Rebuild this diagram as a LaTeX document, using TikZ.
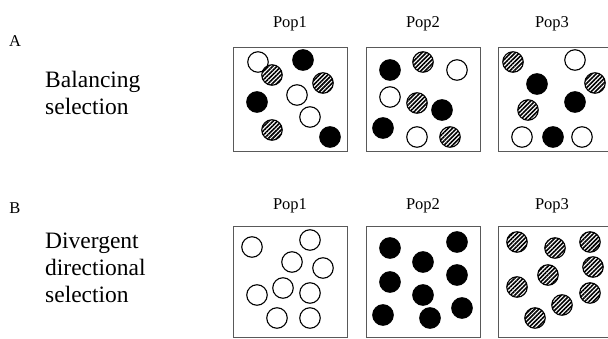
\documentclass[tikz,border=0pt]{standalone}
\usepackage{fontspec}
\setmainfont{Liberation Serif}
\usetikzlibrary{patterns.meta}
\tikzset{
  popbox/.style={draw=black!65, line width=1.1pt, fill=none, inner sep=0pt, anchor=north west},
  ball/.style={circle, minimum size=20.5pt, inner sep=0pt, line width=1.1pt, draw=black},
  wball/.style={ball, fill=white},
  bball/.style={ball, fill=black},
  hball/.style={ball, pattern={Lines[angle=45,distance=3pt,line width=1.6pt]}},
  poplabel/.style={font=\fontsize{16.5}{18}\selectfont, inner sep=0pt},
  rowlabel/.style={font=\fontsize{16.5}{18}\selectfont, inner sep=0pt},
  modelabel/.style={font=\fontsize{23.5}{27}\selectfont, align=left, anchor=west, inner sep=0pt}
}
\begin{document}
\begin{tikzpicture}[x=1pt, y=-1pt]
  \useasboundingbox (0,0) rectangle (608,339);

  % ---- Row A: balancing selection ----
  \node[rowlabel] (labA) at (15,41) {A};
  \node[modelabel] (modeA) at (45,93) {Balancing\\selection};
  \node[poplabel] (popA1) at (290,24) {Pop1};
  \node[poplabel] (popA2) at (423,24) {Pop2};
  \node[poplabel] (popA3) at (552,24) {Pop3};
  \node[popbox, minimum width=114pt, minimum height=104pt] (boxA1) at (233,47) {};
  \node[popbox, minimum width=114pt, minimum height=104pt] (boxA2) at (366,47) {};
  \node[popbox, minimum width=112pt, minimum height=104pt] (boxA3) at (498,47) {};

  % Pop1: mixed alleles
  \foreach \s/\px/\py [count=\i] in {wball/258/62, bball/303/60, hball/272/75,
      hball/323/83, wball/297/95, bball/257/102, wball/310/117,
      hball/272/130, bball/330/137}
    \node[\s] (a1b\i) at (\px,\py) {};
  % Pop2: mixed alleles
  \foreach \s/\px/\py [count=\i] in {bball/390/70, hball/423/62, wball/457/70,
      wball/390/97, hball/417/103, bball/442/110, bball/383/128,
      wball/417/137, hball/450/137}
    \node[\s] (a2b\i) at (\px,\py) {};
  % Pop3: mixed alleles
  \foreach \s/\px/\py [count=\i] in {hball/513/62, wball/575/60, bball/537/84,
      hball/595/83, bball/575/102, hball/528/110, wball/522/137,
      bball/553/137, wball/582/137}
    \node[\s] (a3b\i) at (\px,\py) {};

  % ---- Row B: divergent directional selection ----
  \node[rowlabel] (labB) at (15,208) {B};
  \node[modelabel] (modeB) at (45,268) {Divergent\\directional\\selection};
  \node[poplabel] (popB1) at (290,206) {Pop1};
  \node[poplabel] (popB2) at (423,206) {Pop2};
  \node[poplabel] (popB3) at (552,206) {Pop3};
  \node[popbox, minimum width=114pt, minimum height=111pt] (boxB1) at (233,226) {};
  \node[popbox, minimum width=114pt, minimum height=111pt] (boxB2) at (366,226) {};
  \node[popbox, minimum width=112pt, minimum height=111pt] (boxB3) at (498,226) {};

  % Pop1: fixed for the open allele
  \foreach \px/\py [count=\i] in {252/247, 310/240, 292/262, 323/268, 257/295,
      283/288, 310/293, 277/318, 310/318}
    \node[wball] (b1b\i) at (\px,\py) {};
  % Pop2: fixed for the black allele
  \foreach \px/\py [count=\i] in {390/248, 457/242, 423/262, 457/275, 390/282,
      423/295, 383/315, 430/318, 462/308}
    \node[bball] (b2b\i) at (\px,\py) {};
  % Pop3: fixed for the hatched allele
  \foreach \px/\py [count=\i] in {517/242, 555/248, 590/242, 548/275, 593/267,
      517/287, 590/293, 562/305, 535/318}
    \node[hball] (b3b\i) at (\px,\py) {};
\end{tikzpicture}
\end{document}
